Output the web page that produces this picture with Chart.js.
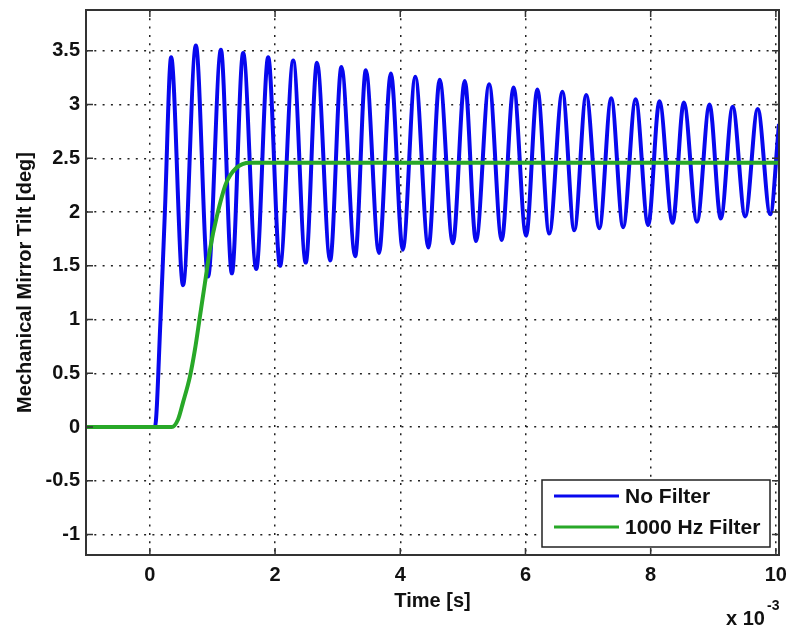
<!DOCTYPE html>
<html>
<head>
<meta charset="utf-8">
<script src="https://cdn.jsdelivr.net/npm/chart.js@4.4.1/dist/chart.umd.min.js"></script>
<style>
  html, body { margin: 0; padding: 0; background: #fff; }
  #wrap { width: 787px; height: 628px; }
</style>
</head>
<body>
<div id="wrap"><canvas id="chart-tilt" width="787" height="628"></canvas></div>
<script>
// time in ms (axis reads x 10^-3 s), tilt in deg
const BLUE_T = [-1.02, 0.08, 0.17, 0.24,
  0.34, 0.53, 0.735, 0.93, 1.135, 1.31, 1.49, 1.70, 1.89, 2.08,
  2.29, 2.49, 2.67, 2.88, 3.06, 3.28, 3.45, 3.66, 3.85, 4.04,
  4.24, 4.45, 4.63, 4.84, 5.03, 5.21, 5.42, 5.62, 5.81, 6.01,
  6.19, 6.38, 6.59, 6.78, 6.97, 7.18, 7.37, 7.56, 7.76, 7.96,
  8.14, 8.35, 8.53, 8.74, 8.94, 9.12, 9.31, 9.51, 9.71, 9.91, 10.05];
const BLUE_V = [0, 0, 1.0, 2.0,
  3.44, 1.32, 3.55, 1.40, 3.51, 1.43, 3.48, 1.47, 3.44, 1.50,
  3.41, 1.53, 3.39, 1.55, 3.35, 1.59, 3.32, 1.62, 3.29, 1.65,
  3.26, 1.67, 3.23, 1.71, 3.22, 1.73, 3.19, 1.74, 3.16, 1.78,
  3.14, 1.80, 3.12, 1.83, 3.09, 1.85, 3.06, 1.86, 3.05, 1.88,
  3.03, 1.90, 3.02, 1.91, 3.00, 1.94, 2.98, 1.96, 2.96, 1.98, 2.82];
const GREEN_T = [-1.02, 0.35, 0.45, 0.53, 0.64, 0.72, 0.80, 0.88, 0.96, 1.07, 1.22, 1.38, 1.60, 10.05];
const GREEN_V = [0, 0, 0.07, 0.23, 0.47, 0.72, 1.03, 1.34, 1.65, 1.96, 2.27, 2.41, 2.46, 2.46];

const X_TICKS = [0, 2, 4, 6, 8, 10];
const Y_TICKS = [-1, -0.5, 0, 0.5, 1, 1.5, 2, 2.5, 3, 3.5];
const LABELS  = ['No Filter', '1000 Hz Filter'];
const COLORS  = ['#0808ee', '#28a828'];

const FONT = "'Liberation Sans', Arial, sans-serif";
const pts = (t, v) => t.map((x, i) => ({ x, y: v[i] }));

// box, inward ticks, exponent and legend, drawn the matlab way
const matlabAxes = {
  id: 'matlabAxes',
  afterDatasetsDraw(chart) {
    const { ctx, chartArea: a, scales: { x, y } } = chart;
    ctx.save();
    ctx.strokeStyle = '#333';
    ctx.lineWidth = 1.5;
    ctx.beginPath();
    X_TICKS.forEach(v => {
      const px = x.getPixelForValue(v);
      ctx.moveTo(px, a.bottom); ctx.lineTo(px, a.bottom - 7);
      ctx.moveTo(px, a.top);    ctx.lineTo(px, a.top + 7);
    });
    Y_TICKS.forEach(v => {
      const py = y.getPixelForValue(v);
      ctx.moveTo(a.left, py);  ctx.lineTo(a.left + 7, py);
      ctx.moveTo(a.right, py); ctx.lineTo(a.right - 7, py);
    });
    ctx.stroke();
    ctx.lineWidth = 2;
    ctx.strokeRect(a.left, a.top, a.right - a.left, a.bottom - a.top);

    // x 10^-3
    ctx.fillStyle = '#111';
    ctx.textBaseline = 'alphabetic';
    ctx.textAlign = 'left';
    ctx.font = `bold 20px ${FONT}`;
    ctx.fillText('x 10', 726, 625);
    ctx.font = `bold 14px ${FONT}`;
    ctx.fillText('-3', 767, 610);

    // legend
    const bw = 228, bh = 67;
    const bx = a.right - 9 - bw, by = a.bottom - 8 - bh;
    ctx.fillStyle = '#fff';
    ctx.fillRect(bx, by, bw, bh);
    ctx.lineWidth = 1.5;
    ctx.strokeStyle = '#222';
    ctx.strokeRect(bx, by, bw, bh);
    ctx.font = `bold 21px ${FONT}`;
    ctx.textBaseline = 'middle';
    chart.data.datasets.forEach((ds, i) => {
      const ly = by + 16 + i * 31;
      ctx.strokeStyle = ds.borderColor;
      ctx.lineWidth = 3;
      ctx.beginPath();
      ctx.moveTo(bx + 12, ly); ctx.lineTo(bx + 77, ly);
      ctx.stroke();
      ctx.fillStyle = '#111';
      ctx.fillText(ds.label, bx + 83, ly + 1);
    });
    ctx.restore();
  }
};

const gridOpts = { color: '#222', lineWidth: 1.5, drawTicks: false };
const borderOpts = { display: false, dash: [2, 6.3] };

new Chart(document.getElementById('chart-tilt').getContext('2d'), {
  type: 'line',
  data: {
    datasets: [
      {
        label: LABELS[0],
        data: pts(BLUE_T, BLUE_V),
        borderColor: COLORS[0],
        borderWidth: 4,
        pointRadius: 0,
        cubicInterpolationMode: 'monotone',
        clip: 0,
        order: 1
      },
      {
        label: LABELS[1],
        data: pts(GREEN_T, GREEN_V),
        borderColor: COLORS[1],
        borderWidth: 4,
        pointRadius: 0,
        cubicInterpolationMode: 'monotone',
        clip: 0,
        order: 0
      }
    ]
  },
  options: {
    responsive: false,
    animation: false,
    devicePixelRatio: 1,
    layout: { padding: { top: 10, right: 8, left: 0, bottom: 0 } },
    plugins: { legend: { display: false }, tooltip: { enabled: false } },
    scales: {
      x: {
        type: 'linear', min: -1.02, max: 10.05,
        afterBuildTicks: s => { s.ticks = X_TICKS.map(v => ({ value: v })); },
        afterFit: s => { s.height = 73; s.paddingLeft = 0; s.paddingRight = 0; },
        grid: gridOpts, border: borderOpts,
        ticks: { color: '#111', padding: 8, maxRotation: 0, font: { family: FONT, size: 20, weight: 'bold' } },
        title: { display: true, text: 'Time [s]', color: '#111', padding: { top: 0, bottom: 15 },
                 font: { family: FONT, size: 20, weight: 'bold' } }
      },
      y: {
        type: 'linear', min: -1.19, max: 3.88,
        afterBuildTicks: s => { s.ticks = Y_TICKS.map(v => ({ value: v })); },
        afterFit: s => { s.width = 86; s.paddingTop = 0; s.paddingBottom = 0; },
        grid: gridOpts, border: borderOpts,
        ticks: { color: '#111', padding: 6, callback: v => String(v), font: { family: FONT, size: 20, weight: 'bold' } },
        title: { display: true, text: 'Mechanical Mirror Tilt [deg]', color: '#111', padding: { top: 13, bottom: 0 },
                 font: { family: FONT, size: 20, weight: 'bold' } }
      }
    }
  },
  plugins: [matlabAxes]
});
</script>
</body>
</html>
